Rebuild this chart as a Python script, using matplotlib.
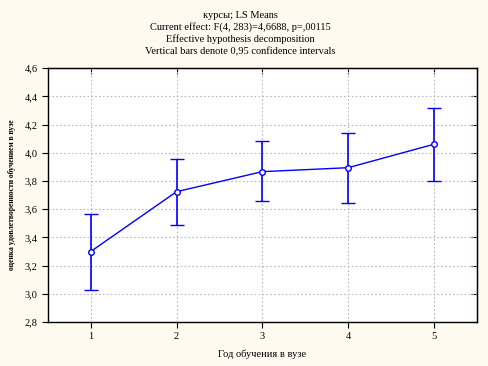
import matplotlib.pyplot as plt
import numpy as np

years = [1, 2, 3, 4, 5]
means = [3.30, 3.724, 3.866, 3.894, 4.060]
ci_low = [3.027, 3.488, 3.656, 3.642, 3.798]
ci_high = [3.564, 3.954, 4.084, 4.140, 4.320]
yticks = [2.8, 3.0, 3.2, 3.4, 3.6, 3.8, 4.0, 4.2, 4.4, 4.6]

title_lines = ["курсы; LS Means",
               "Current effect: F(4, 283)=4,6688, p=,00115",
               "Effective hypothesis decomposition",
               "Vertical bars denote 0,95 confidence intervals"]

plt.rcParams['font.family'] = ['Liberation Serif', 'DejaVu Serif']

bg = '#fffaf0'
fig = plt.figure(figsize=(4.88, 3.66), dpi=100, facecolor=bg)
ax = fig.add_axes([0.098, 0.120, 0.879, 0.694])
ax.set_facecolor('white')

m = np.array(means)
yerr = [m - np.array(ci_low), np.array(ci_high) - m]
ax.errorbar(years, means, yerr=yerr, color='#0000ff', lw=1, elinewidth=1.2,
            capsize=5, capthick=1.2, marker='o', ms=4, mfc='white',
            mec='#0000ff', mew=1, zorder=3)

ax.set_xlim(0.5, 5.5)
ax.set_ylim(2.8, 4.6)
ax.set_xticks(years)
ax.set_yticks(yticks)
ax.set_yticklabels([f"{v:.1f}".replace('.', ',') for v in yticks])
ax.grid(True, color='#b8b8b8', ls=(0, (1.5, 2)), lw=0.8)
ax.tick_params(labelsize=7.5, length=4, width=0.8, direction='out')
for s in ax.spines.values():
    s.set_linewidth(1)

# inward ticks on the top and right edges
top = ax.secondary_xaxis('top')
top.set_xticks(years)
top.tick_params(direction='in', length=4, width=0.8, labeltop=False)
right = ax.secondary_yaxis('right')
right.set_yticks(yticks)
right.tick_params(direction='in', length=4, width=0.8, labelright=False)

ax.set_xlabel("Год обучения в вузе", fontsize=7.5, labelpad=6)
ax.set_ylabel("оценка удовлетворенности обучением в вузе", fontsize=5.5,
              labelpad=6, fontweight='bold')

ys = [0.958, 0.925, 0.892, 0.859]
for t, y in zip(title_lines, ys):
    fig.text(0.492, y, t, ha='center', va='center', fontsize=7.5)

fig.savefig("out.png", dpi=100, facecolor=bg)
